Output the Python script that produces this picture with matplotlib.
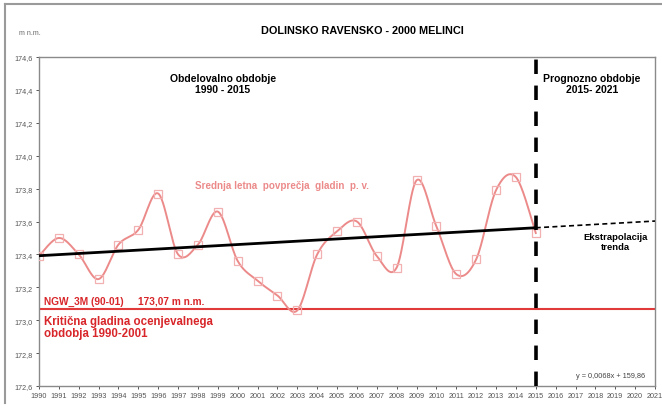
import numpy as np
import matplotlib
matplotlib.use("Agg")
import matplotlib.pyplot as plt
from matplotlib.lines import Line2D

plt.rcParams['font.family'] = ['Liberation Sans', 'DejaVu Sans']

# Annual mean groundwater levels (m n.m.)
years = list(range(1990, 2016))
levels = [173.39, 173.50, 173.40, 173.25, 173.46, 173.55, 173.77, 173.40,
          173.46, 173.66, 173.36, 173.24, 173.15, 173.06, 173.40, 173.54,
          173.60, 173.39, 173.32, 173.85, 173.57, 173.28, 173.37, 173.79,
          173.87, 173.53]

# Linear trend y = a*x + b
trend_slope = 0.0068
trend_intercept = 159.86
critical_level = 173.07
forecast_start = 2015
forecast_end = 2021

x_ticks = list(range(1990, 2022))
y_ticks = [172.6, 172.8, 173.0, 173.2, 173.4, 173.6, 173.8, 174.0, 174.2, 174.4, 174.6]


def smooth_curve(xs, ys, n=30):
    """Bezier smoothing through all points (Catmull-Rom style, tension 1/6)."""
    xs = np.asarray(xs, float)
    ys = np.asarray(ys, float)
    px, py = [], []
    m = len(xs)
    for i in range(m - 1):
        x0, y0 = xs[max(i - 1, 0)], ys[max(i - 1, 0)]
        x1, y1 = xs[i], ys[i]
        x2, y2 = xs[i + 1], ys[i + 1]
        x3, y3 = xs[min(i + 2, m - 1)], ys[min(i + 2, m - 1)]
        c1x, c1y = x1 + (x2 - x0) / 6, y1 + (y2 - y0) / 6
        c2x, c2y = x2 - (x3 - x1) / 6, y2 - (y3 - y1) / 6
        t = np.linspace(0, 1, n, endpoint=(i == m - 2))
        b0 = (1 - t) ** 3
        b1 = 3 * (1 - t) ** 2 * t
        b2 = 3 * (1 - t) * t ** 2
        b3 = t ** 3
        px.extend(b0 * x1 + b1 * c1x + b2 * c2x + b3 * x2)
        py.extend(b0 * y1 + b1 * c1y + b2 * c2y + b3 * y2)
    return np.array(px), np.array(py)


fig = plt.figure(figsize=(6.62, 4.10), dpi=100)
ax = fig.add_axes([0.0589, 0.0561, 0.9305, 0.8024])

curve_color = '#ec8a8a'
sx, sy = smooth_curve(years, levels)
ax.plot(sx, sy, color=curve_color, lw=1.4, zorder=3)
ax.plot(years, levels, ls='none', marker='s', ms=6, mfc='none',
        mec='#f2b0b0', mew=0.9, zorder=4)

# Critical level
ax.axhline(critical_level, color='#e03a3a', lw=1.5, zorder=2)

# Trend over observed period and its extrapolation
tx = np.array([years[0], forecast_start])
ax.plot(tx, trend_slope * tx + trend_intercept, color='black', lw=2.0, zorder=5)
ex = np.array([forecast_start, forecast_end])
ax.plot(ex, trend_slope * ex + trend_intercept, color='black', lw=1.2,
        ls=(0, (3, 2)), zorder=5)

# Boundary between observed and forecast periods
ax.axvline(forecast_start, color='black', lw=2.6, ls=(0, (4, 3.2)), zorder=6,
           clip_on=False)

ax.set_xlim(1990, 2021)
ax.set_ylim(172.6, 174.6)
ax.set_xticks(x_ticks)
ax.set_xticklabels([str(v) for v in x_ticks])
ax.set_yticks(y_ticks)
ax.set_yticklabels([f"{v:.1f}".replace('.', ',') for v in y_ticks])
ax.tick_params(axis='both', labelsize=5.2, colors='#555555', length=2.5,
               width=0.7, pad=2)
for s in ax.spines.values():
    s.set_color('#8a8a8a')
    s.set_linewidth(1.0)

# Texts
fig.text(0.548, 0.925, 'DOLINSKO RAVENSKO - 2000 MELINCI', ha='center',
         va='center', fontsize=7.8, fontweight='bold')
fig.text(0.028, 0.918, 'm n.m.', ha='left', va='center', fontsize=5,
         color='#666666')
ax.text(1999.26, 174.44, 'Obdelovalno obdobje\n1990 - 2015', ha='center',
        va='center', fontsize=7.5, fontweight='bold', linespacing=1.1)
ax.text(2017.83, 174.44, 'Prognozno obdobje\n2015- 2021', ha='center',
        va='center', fontsize=7.5, fontweight='bold', linespacing=1.1)
ax.text(2002.25, 173.822, 'Srednja letna  povprečja  gladin  p. v.',
        ha='center', va='center', fontsize=7.1, color=curve_color,
        fontweight='bold')
ax.text(2019.0, 173.48, 'Ekstrapolacija\ntrenda', ha='center', va='center',
        fontsize=6.8, fontweight='bold', linespacing=1.1)
ax.text(1990.25, 173.117, 'NGW_3M (90-01)     173,07 m n.m.', ha='left',
        va='center', fontsize=7.3, fontweight='bold', color='#d8262a')
ax.text(1990.25, 172.96, 'Kritična gladina ocenjevalnega\nobdobja 1990-2001',
        ha='left', va='center', fontsize=8.3, fontweight='bold',
        color='#d8262a', linespacing=1.05)
ax.text(2020.5, 172.665, f"y = {trend_slope:.4f}x + {trend_intercept:.2f}".replace('.', ','),
        ha='right', va='center', fontsize=5.3, color='#444444')

# Chart area frame (top and left)
fig.add_artist(Line2D([0.008, 1.0], [0.988, 0.988], color='#9a9a9a', lw=1.5,
                      transform=fig.transFigure))
fig.add_artist(Line2D([0.008, 0.008], [0.988, 0.015], color='#9a9a9a', lw=1.5,
                      transform=fig.transFigure))

fig.savefig('out.png', dpi=100)
